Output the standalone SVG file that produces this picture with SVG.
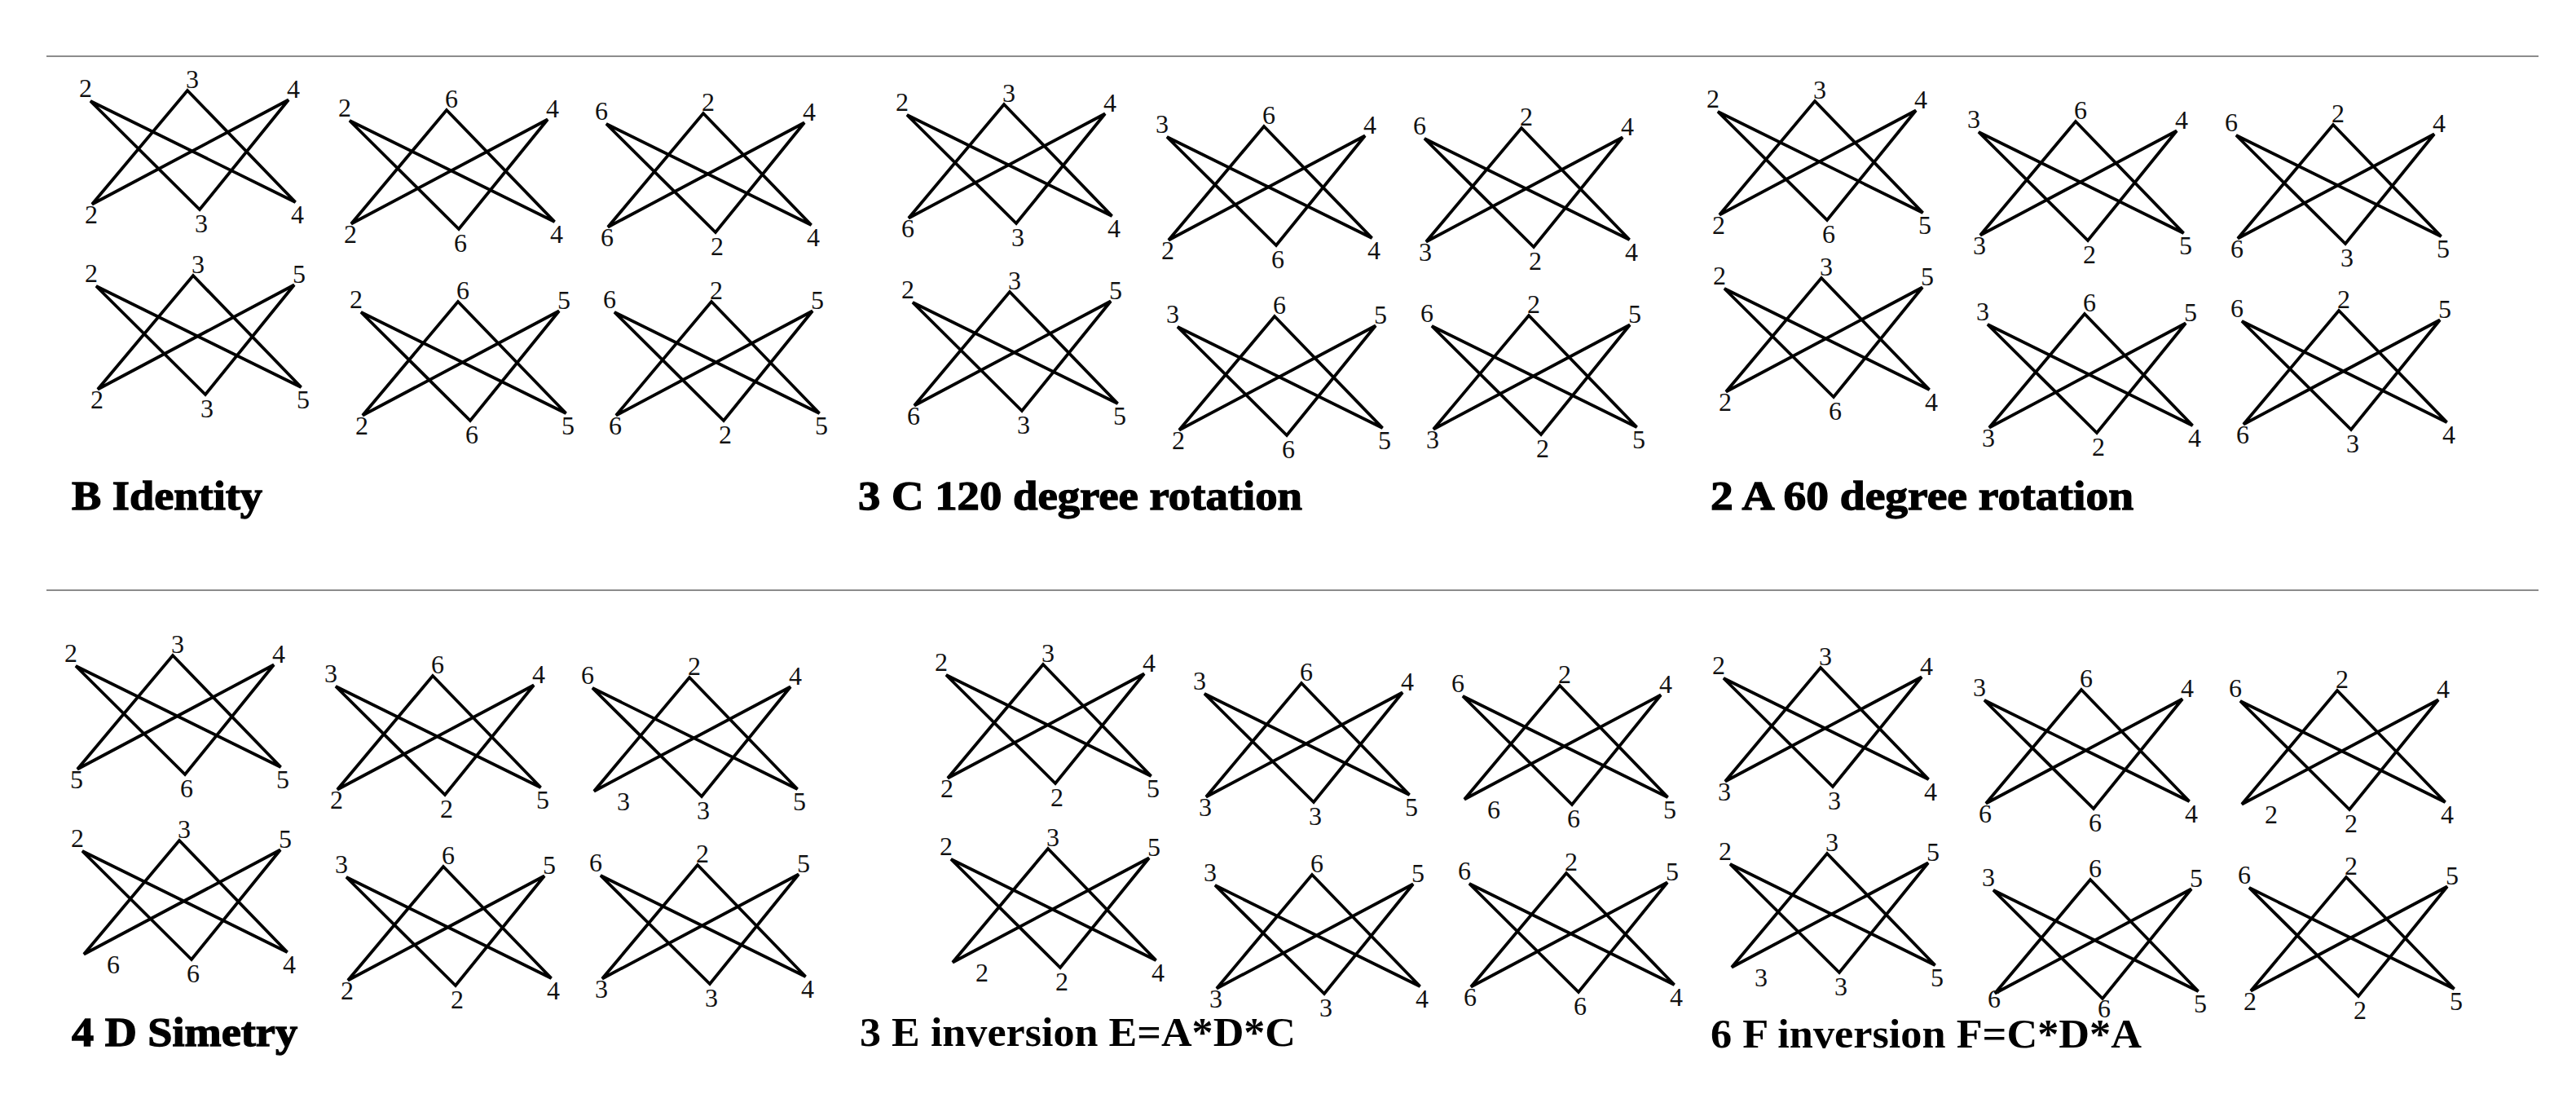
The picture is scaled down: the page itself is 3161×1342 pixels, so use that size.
<svg xmlns="http://www.w3.org/2000/svg" xmlns:xlink="http://www.w3.org/1999/xlink" width="3161" height="1342" viewBox="0 0 3161 1342">
<style>
.st{fill:none;stroke:#000;stroke-width:3.8}
.lb text{font-family:"Liberation Serif","Times New Roman",serif;font-size:32px;text-anchor:middle;fill:#111}
.tt{font-family:"Liberation Serif","Times New Roman",serif;font-size:51px;font-weight:bold;fill:#000}
.hv{stroke:#000;stroke-width:1.3}
.rule{stroke:#8c8c8c;stroke-width:2}
</style>
<defs>
<path id="s" class="st" d="M0,0 L134,133 L243,-1.5 L2,126.5 L119,-13 L251.5,124 Z"/>
</defs>
<rect width="3161" height="1342" fill="#fff"/>
<line class="rule" x1="57" y1="69" x2="3115" y2="69"/>
<line class="rule" x1="57" y1="724" x2="3115" y2="724"/>

<g id="connectors">
<use href="#s" transform="translate(111,124)"/>
<use href="#s" transform="translate(429,148)"/>
<use href="#s" transform="translate(744,152)"/>
<use href="#s" transform="translate(118,351)"/>
<use href="#s" transform="translate(443,383)"/>
<use href="#s" transform="translate(754,383)"/>
<use href="#s" transform="translate(1113,141)"/>
<use href="#s" transform="translate(1432,168)"/>
<use href="#s" transform="translate(1748,170)"/>
<use href="#s" transform="translate(1120,371)"/>
<use href="#s" transform="translate(1445,401)"/>
<use href="#s" transform="translate(1757,400)"/>
<use href="#s" transform="translate(2108,137)"/>
<use href="#s" transform="translate(2428,162)"/>
<use href="#s" transform="translate(2744,166)"/>
<use href="#s" transform="translate(2116,354)"/>
<use href="#s" transform="translate(2439,398)"/>
<use href="#s" transform="translate(2751,394)"/>
<use href="#s" transform="translate(93,817)"/>
<use href="#s" transform="translate(412,842)"/>
<use href="#s" transform="translate(727,844)"/>
<use href="#s" transform="translate(101,1044)"/>
<use href="#s" transform="translate(425,1076)"/>
<use href="#s" transform="translate(737,1074)"/>
<use href="#s" transform="translate(1161,828)"/>
<use href="#s" transform="translate(1478,851)"/>
<use href="#s" transform="translate(1795,854)"/>
<use href="#s" transform="translate(1167,1054)"/>
<use href="#s" transform="translate(1491,1086)"/>
<use href="#s" transform="translate(1803,1084)"/>
<use href="#s" transform="translate(2115,832)"/>
<use href="#s" transform="translate(2435,859)"/>
<use href="#s" transform="translate(2749,860)"/>
<use href="#s" transform="translate(2123,1060)"/>
<use href="#s" transform="translate(2446,1092)"/>
<use href="#s" transform="translate(2760,1089)"/>
</g>

<!-- B Identity -->
<g id="B1" class="lb" transform="translate(111,124)"><text x="-6" y="-5">2</text><text x="125" y="-16">3</text><text x="249" y="-4">4</text><text x="1" y="150">2</text><text x="136" y="161">3</text><text x="254" y="150">4</text></g>
<g id="B2" class="lb" transform="translate(429,148)"><text x="-6" y="-5">2</text><text x="125" y="-16">6</text><text x="249" y="-4">4</text><text x="1" y="150">2</text><text x="136" y="161">6</text><text x="254" y="150">4</text></g>
<g id="B3" class="lb" transform="translate(744,152)"><text x="-6" y="-5">6</text><text x="125" y="-16">2</text><text x="249" y="-4">4</text><text x="1" y="150">6</text><text x="136" y="161">2</text><text x="254" y="150">4</text></g>
<g id="B4" class="lb" transform="translate(118,351)"><text x="-6" y="-5">2</text><text x="125" y="-16">3</text><text x="249" y="-4">5</text><text x="1" y="150">2</text><text x="136" y="161">3</text><text x="254" y="150">5</text></g>
<g id="B5" class="lb" transform="translate(443,383)"><text x="-6" y="-5">2</text><text x="125" y="-16">6</text><text x="249" y="-4">5</text><text x="1" y="150">2</text><text x="136" y="161">6</text><text x="254" y="150">5</text></g>
<g id="B6" class="lb" transform="translate(754,383)"><text x="-6" y="-5">6</text><text x="125" y="-16">2</text><text x="249" y="-4">5</text><text x="1" y="150">6</text><text x="136" y="161">2</text><text x="254" y="150">5</text></g>

<!-- C 120 degree rotation -->
<g id="C1" class="lb" transform="translate(1113,141)"><text x="-6" y="-5">2</text><text x="125" y="-16">3</text><text x="249" y="-4">4</text><text x="1" y="150">6</text><text x="136" y="161">3</text><text x="254" y="150">4</text></g>
<g id="C2" class="lb" transform="translate(1432,168)"><text x="-6" y="-5">3</text><text x="125" y="-16">6</text><text x="249" y="-4">4</text><text x="1" y="150">2</text><text x="136" y="161">6</text><text x="254" y="150">4</text></g>
<g id="C3" class="lb" transform="translate(1748,170)"><text x="-6" y="-5">6</text><text x="125" y="-16">2</text><text x="249" y="-4">4</text><text x="1" y="150">3</text><text x="136" y="161">2</text><text x="254" y="150">4</text></g>
<g id="C4" class="lb" transform="translate(1120,371)"><text x="-6" y="-5">2</text><text x="125" y="-16">3</text><text x="249" y="-4">5</text><text x="1" y="150">6</text><text x="136" y="161">3</text><text x="254" y="150">5</text></g>
<g id="C5" class="lb" transform="translate(1445,401)"><text x="-6" y="-5">3</text><text x="125" y="-16">6</text><text x="249" y="-4">5</text><text x="1" y="150">2</text><text x="136" y="161">6</text><text x="254" y="150">5</text></g>
<g id="C6" class="lb" transform="translate(1757,400)"><text x="-6" y="-5">6</text><text x="125" y="-16">2</text><text x="249" y="-4">5</text><text x="1" y="150">3</text><text x="136" y="161">2</text><text x="254" y="150">5</text></g>

<!-- A 60 degree rotation -->
<g id="A1" class="lb" transform="translate(2108,137)"><text x="-6" y="-5">2</text><text x="125" y="-16">3</text><text x="249" y="-4">4</text><text x="1" y="150">2</text><text x="136" y="161">6</text><text x="254" y="150">5</text></g>
<g id="A2" class="lb" transform="translate(2428,162)"><text x="-6" y="-5">3</text><text x="125" y="-16">6</text><text x="249" y="-4">4</text><text x="1" y="150">3</text><text x="136" y="161">2</text><text x="254" y="150">5</text></g>
<g id="A3" class="lb" transform="translate(2744,166)"><text x="-6" y="-5">6</text><text x="125" y="-16">2</text><text x="249" y="-4">4</text><text x="1" y="150">6</text><text x="136" y="161">3</text><text x="254" y="150">5</text></g>
<g id="A4" class="lb" transform="translate(2116,354)"><text x="-6" y="-5">2</text><text x="125" y="-16">3</text><text x="249" y="-4">5</text><text x="1" y="150">2</text><text x="136" y="161">6</text><text x="254" y="150">4</text></g>
<g id="A5" class="lb" transform="translate(2439,398)"><text x="-6" y="-5">3</text><text x="125" y="-16">6</text><text x="249" y="-4">5</text><text x="1" y="150">3</text><text x="136" y="161">2</text><text x="254" y="150">4</text></g>
<g id="A6" class="lb" transform="translate(2751,394)"><text x="-6" y="-5">6</text><text x="125" y="-16">2</text><text x="249" y="-4">5</text><text x="1" y="150">6</text><text x="136" y="161">3</text><text x="254" y="150">4</text></g>

<!-- D Simetry -->
<g id="D1" class="lb" transform="translate(93,817)"><text x="-6" y="-5">2</text><text x="125" y="-16">3</text><text x="249" y="-4">4</text><text x="1" y="150">5</text><text x="136" y="161">6</text><text x="254" y="150">5</text></g>
<g id="D2" class="lb" transform="translate(412,842)"><text x="-6" y="-5">3</text><text x="125" y="-16">6</text><text x="249" y="-4">4</text><text x="1" y="150">2</text><text x="136" y="161">2</text><text x="254" y="150">5</text></g>
<g id="D3" class="lb" transform="translate(727,844)"><text x="-6" y="-5">6</text><text x="125" y="-16">2</text><text x="249" y="-4">4</text><text x="38" y="150">3</text><text x="136" y="161">3</text><text x="254" y="150">5</text></g>
<g id="D4" class="lb" transform="translate(101,1044)"><text x="-6" y="-5">2</text><text x="125" y="-16">3</text><text x="249" y="-4">5</text><text x="38" y="150">6</text><text x="136" y="161">6</text><text x="254" y="150">4</text></g>
<g id="D5" class="lb" transform="translate(425,1076)"><text x="-6" y="-5">3</text><text x="125" y="-16">6</text><text x="249" y="-4">5</text><text x="1" y="150">2</text><text x="136" y="161">2</text><text x="254" y="150">4</text></g>
<g id="D6" class="lb" transform="translate(737,1074)"><text x="-6" y="-5">6</text><text x="125" y="-16">2</text><text x="249" y="-4">5</text><text x="1" y="150">3</text><text x="136" y="161">3</text><text x="254" y="150">4</text></g>

<!-- E inversion -->
<g id="E1" class="lb" transform="translate(1161,828)"><text x="-6" y="-5">2</text><text x="125" y="-16">3</text><text x="249" y="-4">4</text><text x="1" y="150">2</text><text x="136" y="161">2</text><text x="254" y="150">5</text></g>
<g id="E2" class="lb" transform="translate(1478,851)"><text x="-6" y="-5">3</text><text x="125" y="-16">6</text><text x="249" y="-4">4</text><text x="1" y="150">3</text><text x="136" y="161">3</text><text x="254" y="150">5</text></g>
<g id="E3" class="lb" transform="translate(1795,854)"><text x="-6" y="-5">6</text><text x="125" y="-16">2</text><text x="249" y="-4">4</text><text x="38" y="150">6</text><text x="136" y="161">6</text><text x="254" y="150">5</text></g>
<g id="E4" class="lb" transform="translate(1167,1054)"><text x="-6" y="-5">2</text><text x="125" y="-16">3</text><text x="249" y="-4">5</text><text x="38" y="150">2</text><text x="136" y="161">2</text><text x="254" y="150">4</text></g>
<g id="E5" class="lb" transform="translate(1491,1086)"><text x="-6" y="-5">3</text><text x="125" y="-16">6</text><text x="249" y="-4">5</text><text x="1" y="150">3</text><text x="136" y="161">3</text><text x="254" y="150">4</text></g>
<g id="E6" class="lb" transform="translate(1803,1084)"><text x="-6" y="-5">6</text><text x="125" y="-16">2</text><text x="249" y="-4">5</text><text x="1" y="150">6</text><text x="136" y="161">6</text><text x="254" y="150">4</text></g>

<!-- F inversion -->
<g id="F1" class="lb" transform="translate(2115,832)"><text x="-6" y="-5">2</text><text x="125" y="-16">3</text><text x="249" y="-4">4</text><text x="1" y="150">3</text><text x="136" y="161">3</text><text x="254" y="150">4</text></g>
<g id="F2" class="lb" transform="translate(2435,859)"><text x="-6" y="-5">3</text><text x="125" y="-16">6</text><text x="249" y="-4">4</text><text x="1" y="150">6</text><text x="136" y="161">6</text><text x="254" y="150">4</text></g>
<g id="F3" class="lb" transform="translate(2749,860)"><text x="-6" y="-5">6</text><text x="125" y="-16">2</text><text x="249" y="-4">4</text><text x="38" y="150">2</text><text x="136" y="161">2</text><text x="254" y="150">4</text></g>
<g id="F4" class="lb" transform="translate(2123,1060)"><text x="-6" y="-5">2</text><text x="125" y="-16">3</text><text x="249" y="-4">5</text><text x="38" y="150">3</text><text x="136" y="161">3</text><text x="254" y="150">5</text></g>
<g id="F5" class="lb" transform="translate(2446,1092)"><text x="-6" y="-5">3</text><text x="125" y="-16">6</text><text x="249" y="-4">5</text><text x="1" y="144">6</text><text x="136" y="156">6</text><text x="254" y="150">5</text></g>
<g id="F6" class="lb" transform="translate(2760,1089)"><text x="-6" y="-5">6</text><text x="125" y="-16">2</text><text x="249" y="-4">5</text><text x="1" y="150">2</text><text x="136" y="161">2</text><text x="254" y="150">5</text></g>

<g id="titles">
<text class="tt hv" x="88" y="625" textLength="234" lengthAdjust="spacingAndGlyphs">B Identity</text>
<text class="tt hv" x="1053" y="625" textLength="545" lengthAdjust="spacingAndGlyphs">3 C 120 degree rotation</text>
<text class="tt hv" x="2099" y="625" textLength="519" lengthAdjust="spacingAndGlyphs">2 A 60 degree rotation</text>
<text class="tt hv" x="88" y="1283" textLength="277" lengthAdjust="spacingAndGlyphs">4 D Simetry</text>
<text class="tt" x="1055" y="1283" textLength="535" lengthAdjust="spacingAndGlyphs">3 E inversion E=A*D*C</text>
<text class="tt" x="2099" y="1285" textLength="529" lengthAdjust="spacingAndGlyphs">6 F inversion F=C*D*A</text>
</g>
</svg>
